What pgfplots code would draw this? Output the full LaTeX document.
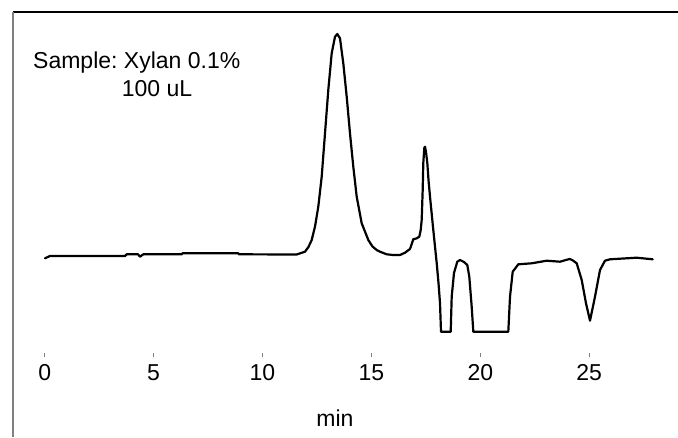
\documentclass[border=0pt]{standalone}
\usepackage{pgfplots}
\pgfplotsset{compat=1.18}
\usepackage{fontspec}
\setmainfont{Liberation Sans}
\frenchspacing

% Chromatogram trace: time (min) vs detector signal (arbitrary units, baseline ~0)
\pgfplotstableread{
t       s
0.014   -3.3
0.243   -1.0
3.687   -1.0
3.765    0.7
4.284    0.7
4.375   -1.7
4.527    0.7
6.290    0.7
6.327    1.7
8.889    1.7
8.921    0.7
11.570   0.5
11.768   2.0
11.951   3.3
12.110   8.0
12.259  15.0
12.410  28.3
12.562  48.3
12.718  78.3
12.870 121.7
13.021 165.0
13.177 201.7
13.329 218.3
13.434 221.0
13.558 216.7
13.710 191.7
13.866 158.3
14.017 121.7
14.169  88.3
14.325  58.3
14.555  31.7
14.858  15.0
15.050   8.5
15.243   5.0
15.395   3.3
15.702   0.7
15.992   0.0
16.313   0.0
16.543   2.3
16.772   6.0
16.924  15.7
17.080  16.7
17.199  18.3
17.264  25.0
17.309  35.0
17.355  65.0
17.383  92.0
17.429 107.0
17.461 108.3
17.507 103.0
17.567  92.0
17.622  75.0
17.691  58.3
17.842  25.0
17.998  -8.0
18.081 -28.0
18.150 -48.0
18.196 -76.7
18.641 -76.7
18.687 -41.7
18.792 -18.0
18.944  -6.7
19.068  -5.0
19.252  -7.0
19.403 -10.0
19.495 -21.7
19.605 -51.7
19.679 -76.7
21.286 -76.7
21.364 -41.7
21.488 -16.7
21.745  -9.3
22.360  -8.3
23.049  -5.7
23.659  -6.7
23.981  -4.7
24.118  -4.0
24.256  -5.5
24.426  -8.3
24.656 -25.0
24.853 -48.3
25.037 -65.7
25.266 -41.7
25.496 -15.0
25.725  -5.7
25.955  -4.3
27.181  -2.7
27.916  -4.3
}\trace

\begin{document}
\begin{tikzpicture}[x=1pt,y=1pt]
\useasboundingbox (-13,-82) rectangle (665,355);
\begin{axis}[
  anchor=south west, at={(0pt,0pt)},
  scale only axis, width=665pt, height=343pt,
  xmin=-1.455, xmax=29.077, ymin=-100, ymax=243,
  axis x line*=bottom, axis y line=none,
  x axis line style={draw=none},
  xtick={0,5,...,25},
  tick align=center, major tick length=4pt,
  every tick/.style={gray, line width=0.9pt},
  xticklabel style={font=\fontsize{23}{27}\selectfont, yshift=-4pt},
  /pgf/number format/assume math mode=true,
  clip=false,
]
\addplot[black, line width=2.2pt, line join=round, line cap=round] table[x=t, y=s] {\trace};
\end{axis}
% frame
\draw[black, line width=1.3pt] (0,343) -- (665,343);
\draw[gray, line width=1.3pt] (0,343) -- (0,-82);
% annotations
\node[anchor=base west, inner sep=0pt, font=\fontsize{23}{27}\selectfont] at (20,286.7) {Sample: Xylan 0.1\%};
\node[anchor=base west, inner sep=0pt, font=\fontsize{23}{27}\selectfont] at (108.7,258.3) {100 uL};
\node[anchor=base, inner sep=0pt, font=\fontsize{23}{27}\selectfont] at (322,-71.7) {min};
\end{tikzpicture}
\end{document}
